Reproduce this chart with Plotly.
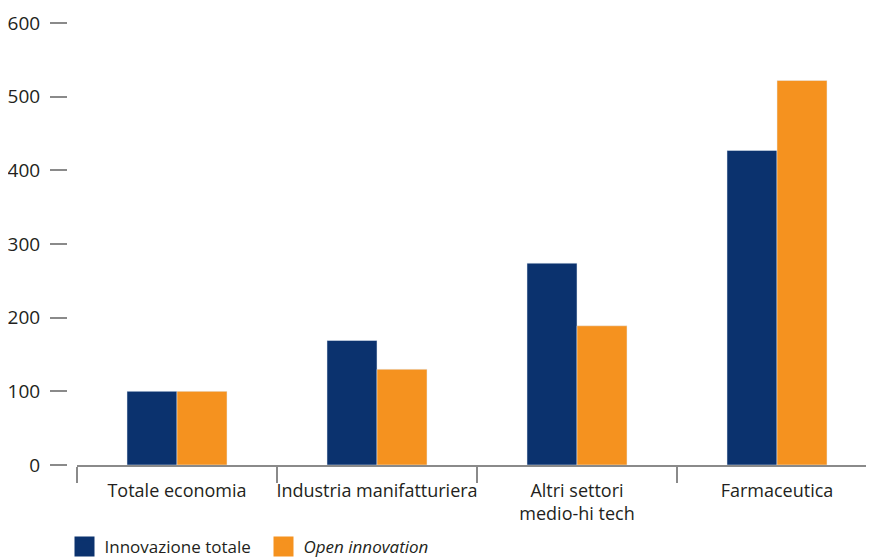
import plotly.graph_objects as go

categories = ["Totale economia", "Industria manifatturiera", "Altri settori<br>medio-hi tech", "Farmaceutica"]
innovazione_totale = [100, 169, 274, 427]
open_innovation = [100, 130, 189, 522]
y_ticks = [0, 100, 200, 300, 400, 500, 600]

BLUE = "#0b326e"
ORANGE = "#f5921f"
FONT = "Open Sans"
TXT = "#231f20"

# the page body has an 8px margin, so the figure is drawn 8px in from the top-left
W, H = 866, 550
OFF = 8
fig = go.Figure()
fig.add_trace(go.Bar(x=categories, y=innovazione_totale, marker_color=BLUE, showlegend=False))
fig.add_trace(go.Bar(x=categories, y=open_innovation, marker_color=ORANGE, showlegend=False))
# legend proxies with larger square symbols
fig.add_trace(go.Scatter(x=[None], y=[None], mode="markers", name="Innovazione totale",
                         marker=dict(symbol="square", size=16, color=BLUE,
                                     line=dict(color=BLUE, width=4))))
fig.add_trace(go.Scatter(x=[None], y=[None], mode="markers", name="<i>Open innovation</i>",
                         marker=dict(symbol="square", size=16, color=ORANGE,
                                     line=dict(color=ORANGE, width=4))))

plot_top, plot_bottom = 23 - OFF, 465 - OFF
plot_h = plot_bottom - plot_top

fig.update_layout(
    width=W, height=H,
    margin=dict(l=0, r=0, t=plot_top, b=H - plot_bottom, autoexpand=False),
    plot_bgcolor="white", paper_bgcolor="white",
    font=dict(family=FONT, size=18, color=TXT),
    barmode="group", bargap=0.5, bargroupgap=0,
    xaxis=dict(
        domain=[(77 - OFF) / W, 1],
        range=[-0.5, 3.485],
        showline=True, linecolor="#8a8a8a", linewidth=2,
        ticks="outside", tickson="boundaries", ticklen=16, tickcolor="#8a8a8a", tickwidth=2,
        showgrid=False, zeroline=False,
        tickangle=0,
        tickfont=dict(size=18, color=TXT),
        ticklabelstandoff=8,
    ),
    yaxis=dict(
        range=[0, 600], tickvals=y_ticks,
        anchor="free", position=(67 - OFF) / W,
        showline=False, showgrid=False, zeroline=False,
        ticks="outside", ticklen=17, tickcolor="#8a8a8a", tickwidth=1.5,
        tickfont=dict(size=19, color=TXT),
        ticklabelstandoff=6,
    ),
    legend=dict(
        orientation="h", x=(64.5 - OFF) / W, xanchor="left",
        y=-(547 - 465) / plot_h, yanchor="middle",
        entrywidth=154, entrywidthmode="pixels",
        font=dict(size=17, color=TXT),
        bgcolor="rgba(0,0,0,0)",
    ),
)
fig.write_html("out.html")
